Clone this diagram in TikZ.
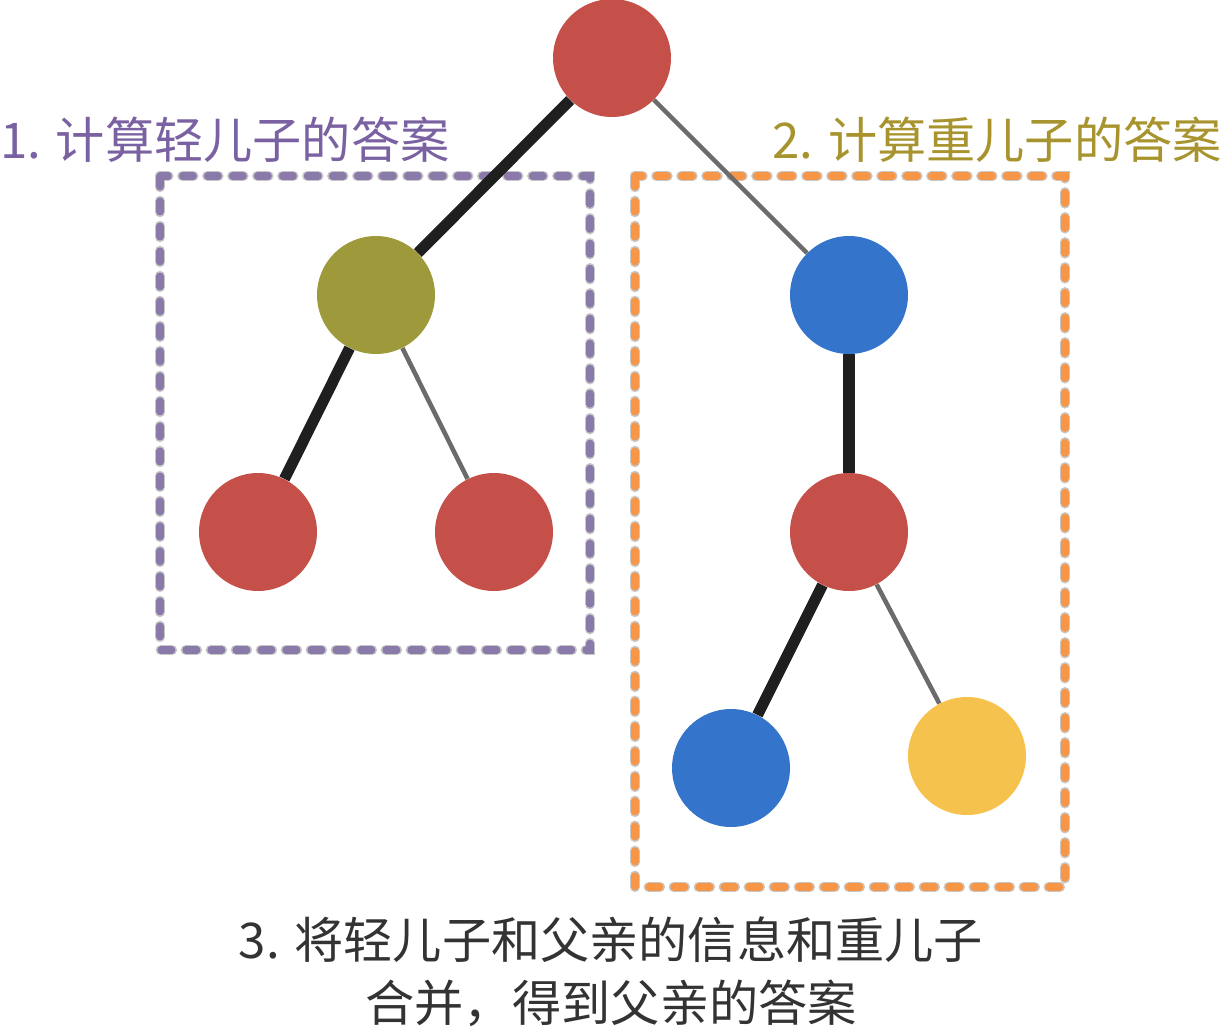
\documentclass[tikz,border=0pt]{standalone}
\usepackage{fontspec}
\setmainfont{Noto Sans CJK SC}
\usepackage{xcolor}
\usetikzlibrary{calc}
\definecolor{nodered}{HTML}{C5504A}
\definecolor{nodeolive}{HTML}{9E9A3B}
\definecolor{nodeblue}{HTML}{3574CB}
\definecolor{nodeyellow}{HTML}{F5C24D}
\definecolor{boxpurple}{HTML}{8A7AAA}
\definecolor{txtpurple}{HTML}{7A62A2}
\definecolor{boxorange}{HTML}{F79646}
\definecolor{txtolive}{HTML}{A8942E}
\tikzset{
	vert/.style={circle, minimum size=2.36cm, inner sep=0pt, fill=#1},
	heavy/.style={line width=6.3pt, draw=black!88},
	light/.style={line width=2.6pt, draw=black!58},
	halo/.style={line width=6pt, draw=black!22, line cap=round, dash pattern=on 0.22cm off 0.28cm},
	boxline/.style={line width=4pt, draw=#1, line cap=round, dash pattern=on 0.22cm off 0.28cm},
	note/.style={font=\fontsize{28}{36}\selectfont, inner sep=0pt}
}

\begin{document}
\begin{tikzpicture}[x=0.02cm, y=-0.02cm]
			\useasboundingbox (0,0) rectangle (1225,1035);
			% Dashed boxes
			\draw[halo] (160,176) rectangle (590,650);
			\draw[boxline=boxpurple] (160,176) rectangle (590,650);
			\draw[halo] (635,176) rectangle (1065,887);
			\draw[boxline=boxorange] (635,176) rectangle (1065,887);
			% Vertices
			\node[vert=nodered] (root) at (612,58) {};
			\node[vert=nodeolive] (light) at (376,295) {};
			\node[vert=nodeblue] (heavy) at (849,295) {};
			\node[vert=nodered] (ll) at (258,532) {};
			\node[vert=nodered] (lr) at (494,532) {};
			\node[vert=nodered] (hm) at (849,532) {};
			\node[vert=nodeblue] (hl) at (731,768) {};
			\node[vert=nodeyellow] (hr) at (967,756) {};
			% Edges
			\draw[heavy] (root) -- (light);
			\draw[light] (root) -- (heavy);
			\draw[heavy] (light) -- (ll);
			\draw[light] (light) -- (lr);
			\draw[heavy] (heavy) -- (hm);
			\draw[heavy] (hm) -- (hl);
			\draw[light] (hm) -- (hr);
			% Labels
			\node[note, anchor=west, text=txtpurple] (step1) at (0,140) {1. 计算轻儿子的答案};
			\node[note, anchor=east, text=txtolive] (step2) at (1222,140) {2. 计算重儿子的答案};
			\node[note, align=center, text=black!80] (step3) at (611,972) {3. 将轻儿子和父亲的信息和重儿子\\合并，得到父亲的答案};
		\end{tikzpicture}
\end{document}
